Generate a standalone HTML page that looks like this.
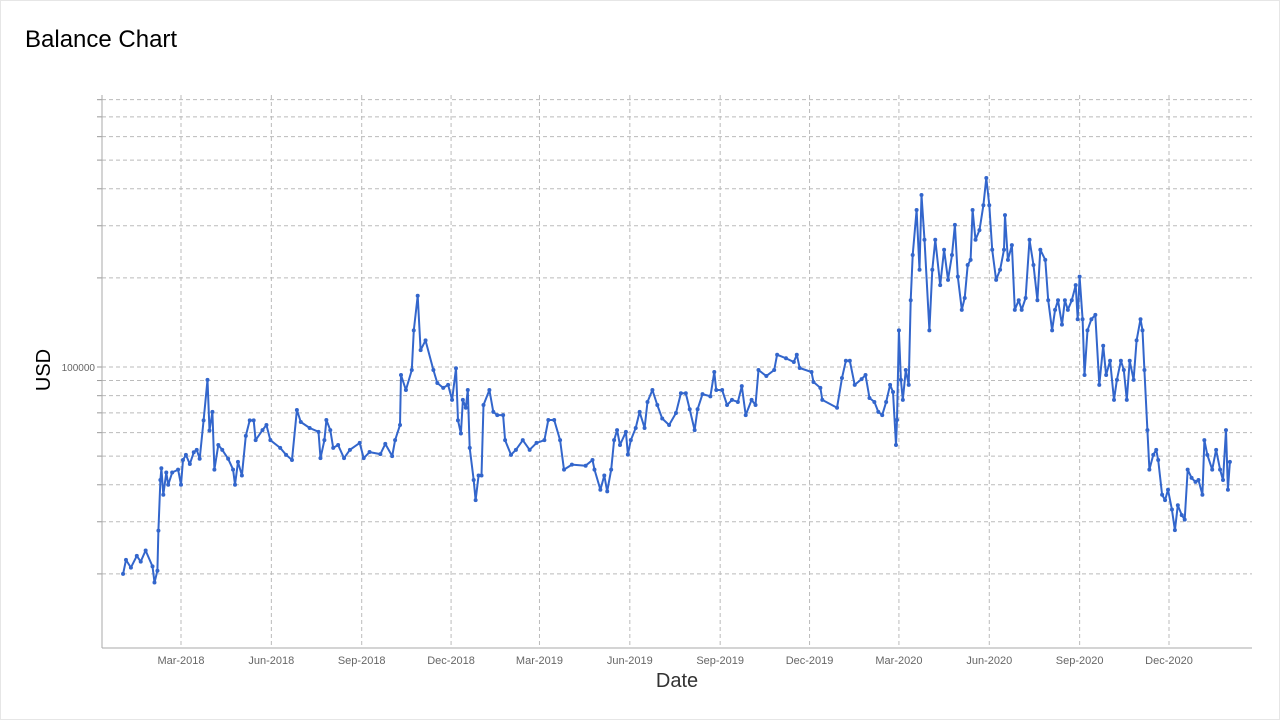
<!DOCTYPE html>
<html><head><meta charset="utf-8"><style>
html,body{margin:0;padding:0;background:#fff;}
body{width:1280px;height:720px;overflow:hidden;font-family:"Liberation Sans",sans-serif;}
#frame{position:absolute;left:0;top:0;width:1278px;height:718px;border:1px solid #e6e6e6;}
</style></head><body>
<div id="frame"></div>
<svg id="chart" width="1280" height="720" style="position:absolute;left:0;top:0">
<text x="25" y="47" font-size="24" fill="#000" font-family="Liberation Sans, sans-serif">Balance Chart</text>
<g id="grid"></g>
<g id="axes"></g>
<g id="series"></g>
<text x="677" y="687" font-size="20" text-anchor="middle" fill="#333" font-family="Liberation Sans, sans-serif">Date</text>
<text transform="translate(50,370) rotate(-90)" font-size="20" text-anchor="middle" fill="#000" font-family="Liberation Sans, sans-serif">USD</text>
</svg>
<script>
// days since 2018-01-01
const dayOffsets = [0,3,8,14,18,23,30,32,35,36,38,39,41,44,46,50,56,59,61,64,68,72,75,78,82,86,88,91,93,97,101,107,112,114,117,121,125,129,133,135,142,146,150,160,166,172,177,181,190,199,201,205,207,211,214,219,225,231,241,245,251,262,267,274,277,282,283,288,294,296,300,303,308,316,320,326,331,335,339,341,344,346,349,351,353,357,359,362,365,367,373,377,381,387,389,395,400,407,414,421,429,433,439,445,449,457,471,478,480,486,490,493,497,500,503,506,512,514,517,522,526,531,534,539,544,549,556,563,568,573,577,582,585,590,598,602,604,610,615,620,626,630,634,640,644,647,655,663,666,675,683,686,689,701,703,710,712,727,732,736,740,745,752,756,760,765,769,773,777,781,784,787,788,790,792,794,797,800,802,804,808,811,813,816,821,824,827,832,836,840,844,847,850,854,857,860,863,865,868,872,876,879,882,885,889,893,897,898,901,905,908,912,915,919,923,927,931,934,939,942,946,949,952,956,959,962,966,970,972,974,977,979,982,986,990,994,998,1001,1005,1009,1012,1016,1019,1022,1025,1029,1032,1036,1038,1040,1043,1045,1049,1052,1054,1058,1061,1064,1068,1071,1074,1078,1081,1084,1088,1092,1095,1099,1101,1104,1109,1113,1117,1120,1123,1125,1127];
const balances = [20000,22300,21000,23000,22000,24000,21200,18700,20500,28000,41500,45500,37000,44000,40000,44000,45000,40000,48500,50500,47000,51500,52500,49000,66000,90500,61000,70500,45000,54500,52500,49000,45000,40000,47800,43000,58500,66000,66000,56600,61200,63700,56600,53300,50500,48500,71600,65200,62200,60400,49200,56600,66200,61200,53300,54500,49200,52500,55400,49200,51600,50800,55000,50000,56600,63700,94000,83600,97700,133000,174000,114000,123000,97700,88300,85000,87000,77400,99000,66000,59600,77400,72800,83600,53300,41500,35500,43000,43000,74400,83600,70500,68800,68800,56600,50500,52500,56600,52500,55400,56600,66200,66200,56600,45000,46800,46400,48500,45000,38500,43000,38000,45000,56600,61200,54500,60400,50600,56600,62200,70500,62200,76200,83600,74400,67000,63700,69900,81500,81500,72000,61200,72000,81000,79600,96200,83600,83600,74400,77400,76200,86200,68800,77400,74400,97700,93200,97700,110000,107000,104000,110000,99200,96200,89000,85000,77400,72800,91800,105000,105000,87000,91000,94000,78600,76200,70500,68800,76200,87000,82300,54500,66200,133000,90500,77400,97700,87000,168000,239000,339000,213000,381000,269000,133000,213000,269000,189000,249000,197000,239000,302000,202000,156000,171000,221000,230000,339000,269000,290000,352000,435000,352000,249000,197000,213000,249000,326000,230000,258000,156000,168000,156000,171000,269000,221000,168000,249000,230000,168000,133000,156000,168000,139000,168000,156000,168000,189000,145000,202000,145000,94000,133000,145000,150000,87000,118000,94000,105000,77400,90500,105000,97700,77400,105000,90500,123000,145000,133000,97700,61200,45000,50500,52500,48500,37000,35500,38500,33000,28100,34100,31600,30500,45000,42200,40900,41500,37000,56600,50500,45000,52500,45000,41500,61200,38500,47800];
const xTickLabels = ["Mar-2018","Jun-2018","Sep-2018","Dec-2018","Mar-2019","Jun-2019","Sep-2019","Dec-2019","Mar-2020","Jun-2020","Sep-2020","Dec-2020"];
const xTickDays = [59,151,243,334,424,516,608,699,790,882,974,1065];
const yGridValues = [20000,30000,40000,50000,60000,70000,80000,90000,100000,200000,300000,400000,500000,600000,700000,800000];
const yTickLabels = ["100000"];

const NS="http://www.w3.org/2000/svg";
const L=102,R=1252,T=95,B=648;
function xScale(d){return 181+(d-59)*(988/1006);}
function yScale(v){return 367-(Math.log10(v)-5)*296;}
function mk(tag,attrs,parent){const e=document.createElementNS(NS,tag);for(const k in attrs)e.setAttribute(k,attrs[k]);parent.appendChild(e);return e;}
const grid=document.getElementById('grid'),axes=document.getElementById('axes'),series=document.getElementById('series');
yGridValues.forEach(v=>{const y=yScale(v);
 const l=mk('line',{x1:L,x2:R,y1:y,y2:y,stroke:'#bbb','stroke-dasharray':'4,3','stroke-width':1},grid);
 
 
 const t=mk('line',{x1:L-5,x2:L,y1:y,y2:y,stroke:'#999','stroke-width':1},axes);
 
 
});
yTickLabels.forEach(s=>{const t=mk('text',{x:L-7,y:yScale(+s)+4,'font-size':10,'text-anchor':'end',fill:'#666'},axes);t.textContent=s;
 
 
});
xTickDays.forEach((d,i)=>{const x=xScale(d);
 const l=mk('line',{x1:x,x2:x,y1:T,y2:B,stroke:'#bbb','stroke-dasharray':'4,3','stroke-width':1},grid);
 
 
 const t=mk('text',{x:x,y:B+16,'font-size':11,'text-anchor':'middle',fill:'#666'},axes);t.textContent=xTickLabels[i];
 
 
});
const ya=mk('line',{x1:L,x2:L,y1:T,y2:B,stroke:'#aaa','stroke-width':1},axes);


const xa=mk('line',{x1:L,x2:R,y1:B,y2:B,stroke:'#aaa','stroke-width':1},axes);


const pts=dayOffsets.map((d,i)=>xScale(d).toFixed(1)+','+yScale(balances[i]).toFixed(1)).join(' ');
const pl=mk('polyline',{points:pts,fill:'none',stroke:'#3366cc','stroke-width':2,'stroke-linejoin':'round'},series);


dayOffsets.forEach((d,i)=>{const c=mk('circle',{cx:xScale(d),cy:yScale(balances[i]),r:2,fill:'#3366cc'},series);
 
 
});
</script>
</body></html>
